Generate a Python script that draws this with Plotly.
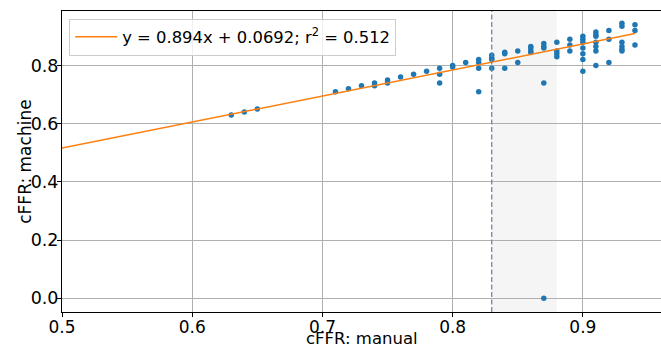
import plotly.graph_objects as go

# manual cFFR (x) and machine cFFR (y)
manual = [0.63, 0.64, 0.65,
          0.71, 0.72, 0.73, 0.74, 0.74, 0.75, 0.75, 0.76, 0.77, 0.78,
          0.79, 0.79, 0.79, 0.80, 0.80, 0.81,
          0.82, 0.82, 0.82, 0.82,
          0.83, 0.83, 0.83, 0.83,
          0.84, 0.84, 0.84,
          0.85, 0.85,
          0.86, 0.86, 0.86, 0.86,
          0.87, 0.87, 0.87, 0.87, 0.87,
          0.88, 0.88, 0.88, 0.88,
          0.89, 0.89, 0.89,
          0.90, 0.90, 0.90, 0.90, 0.90, 0.90, 0.90,
          0.91, 0.91, 0.91, 0.91, 0.91, 0.91, 0.91,
          0.92, 0.92, 0.92,
          0.93, 0.93, 0.93, 0.93, 0.93, 0.93,
          0.94, 0.94, 0.94]
machine = [0.63, 0.64, 0.65,
           0.71, 0.72, 0.73, 0.74, 0.73, 0.75, 0.74, 0.76, 0.77, 0.78,
           0.79, 0.77, 0.74, 0.80, 0.795, 0.81,
           0.82, 0.81, 0.79, 0.71,
           0.835, 0.825, 0.82, 0.79,
           0.845, 0.84, 0.79,
           0.85, 0.81,
           0.865, 0.86, 0.85, 0.845,
           0.875, 0.865, 0.86, 0.74, 0.0,
           0.88, 0.85, 0.84, 0.83,
           0.89, 0.87, 0.85,
           0.90, 0.89, 0.88, 0.86, 0.84, 0.82, 0.78,
           0.915, 0.905, 0.90, 0.88, 0.865, 0.85, 0.80,
           0.92, 0.89, 0.81,
           0.945, 0.935, 0.88, 0.865, 0.855, 0.85,
           0.94, 0.92, 0.87]

slope = 0.894
intercept = 0.0692
r2 = 0.512
fit_x = [0.5, 0.94]
cutoff = 0.83
zone = [0.83, 0.88]
x_title = "cFFR: manual"
y_title = "cFFR: machine"

fit_y = [slope * v + intercept for v in fit_x]

FONT = "DejaVu Sans"
fig = go.Figure()

fig.add_shape(type="rect", xref="x", yref="paper", x0=zone[0], x1=zone[1], y0=0, y1=1,
              fillcolor="rgba(128,128,128,0.08)", line_width=0, layer="below")

fig.add_trace(go.Scatter(x=manual, y=machine, mode="markers",
                         marker=dict(color="#1f77b4", size=5.5), showlegend=False))
fig.add_trace(go.Scatter(x=fit_x, y=fit_y, mode="lines",
                         line=dict(color="#ff7f0e", width=1.5),
                         name=f"y = {slope}x + {intercept}; r<sup>2</sup> = {r2}"))

fig.add_shape(type="line", xref="x", yref="paper", x0=cutoff, x1=cutoff, y0=0, y1=1,
              line=dict(color="#7585a0", width=1.3, dash="5px,2.5px"))

fig.add_annotation(text=x_title, xref="paper", yref="paper", x=0.5, y=-0.1229,
                   xanchor="center", yanchor="bottom", showarrow=False, borderpad=0,
                   font=dict(family=FONT, size=16.5, color="black"))
fig.add_annotation(text=y_title, xref="paper", yref="paper", x=-0.063, y=0.5,
                   xanchor="center", yanchor="middle", showarrow=False, textangle=-90,
                   font=dict(family=FONT, size=17, color="black"))

fig.update_layout(
    width=661, height=349,
    margin=dict(l=62, r=0, t=11, b=37),
    paper_bgcolor="white", plot_bgcolor="white",
    font=dict(family=FONT, size=17, color="black"),
    legend=dict(x=0.012, y=0.975, xanchor="left", yanchor="top", itemwidth=42,
                bgcolor="rgba(255,255,255,0.8)", bordercolor="#cccccc", borderwidth=1,
                font=dict(size=16.4, family=FONT)),
    xaxis=dict(range=[0.5, 0.96], tickvals=[0.5, 0.6, 0.7, 0.8, 0.9],
               ticktext=["0.5", "0.6", "0.7", "0.8", "0.9"],
               tickfont=dict(size=17), ticklabelstandoff=-4,
               showgrid=True, gridcolor="#b0b0b0", gridwidth=1,
               showline=True, linecolor="black", linewidth=1, mirror=True,
               ticks="outside", ticklen=4, tickcolor="black",
               zeroline=False, automargin=False),
    yaxis=dict(range=[-0.047, 0.987], tickvals=[0.0, 0.2, 0.4, 0.6, 0.8],
               ticktext=["0.0", "0.2", "0.4", "0.6", "0.8"],
               tickfont=dict(size=17.5), ticklabelstandoff=-5,
               showgrid=True, gridcolor="#b0b0b0", gridwidth=1,
               showline=True, linecolor="black", linewidth=1,
               ticks="outside", ticklen=4, tickcolor="black",
               zeroline=False, automargin=False),
)

fig.write_html("out.html")
